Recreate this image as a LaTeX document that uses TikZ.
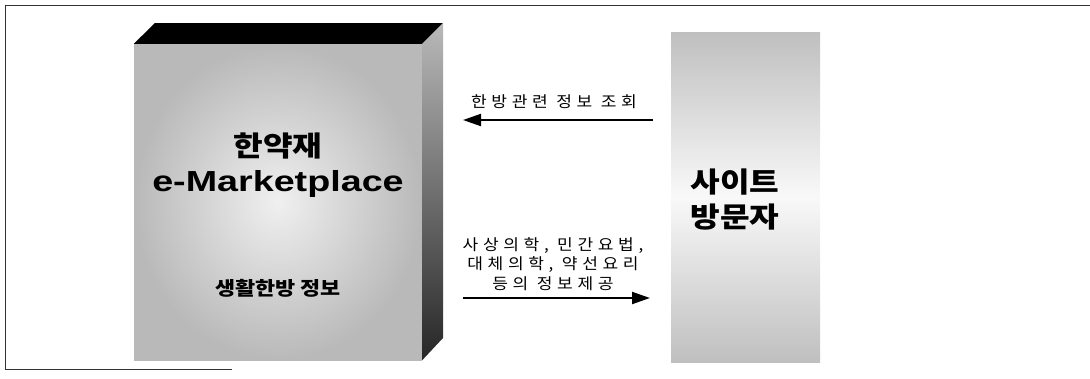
\documentclass[tikz,border=0pt]{standalone}
\usepackage{fontspec}
\usetikzlibrary{arrows.meta}
\newfontfamily\korfont[LetterSpace=30, FakeStretch=1.1]{Noto Sans CJK KR}
\newfontfamily\korbold[FakeStretch=1.15]{Noto Sans CJK KR}
\newfontfamily\latbold[FakeStretch=1.3]{Liberation Sans}
\tikzstyle{frame}=[draw=black!80, line width=0.8pt]
\tikzstyle{frontface}=[shade, inner color=gray!12, outer color=gray!55, minimum width=288pt, minimum height=316pt, inner sep=0pt]
\tikzstyle{sidebox}=[shade, top color=gray!50, bottom color=gray!50, middle color=gray!5, minimum width=149pt, minimum height=330pt, inner sep=0pt]
\tikzstyle{bigtext}=[font=\korbold\bfseries\fontsize{28}{35}\selectfont, align=center]
\tikzstyle{mkttext}=[font=\latbold\bfseries\fontsize{29}{34}\selectfont]
\tikzstyle{midtext}=[font=\korbold\bfseries\fontsize{19}{22}\selectfont]
\tikzstyle{smalltext}=[font=\korfont\fontsize{15.5}{19.5}\selectfont, align=center]
\tikzstyle{flow}=[line width=2pt, -{Triangle[length=18pt, width=12pt]}]

\begin{document}
\begin{tikzpicture}[x=1pt, y=-1pt]
		   \useasboundingbox (0,0) rectangle (1090,378);
		   \draw[frame] (1090,5) -- (5,5) -- (5,369) -- (232,369);
		   \begin{scope}
			   \node (market) at (278,202)[frontface] {};
			   \fill[black] (market.north west) -- (155,23) -- (443,23) -- (market.north east) -- cycle;
			   \shade[top color=gray!55, bottom color=black!85] (market.north east) -- (443,23) -- (443,338) -- (market.south east) -- cycle;
			   \node (herb) at (278,146)[bigtext] {한약재};
			   \node (emkt) at (278,184)[mkttext] {e-Marketplace};
			   \node (life) at (278,288)[midtext] {생활한방 정보};
			   \node (visitor) at (745.5,197)[sidebox] {};
			   \node (who) at (735,200)[bigtext] {사이트\\방문자};
		   \end{scope}
		   \begin{scope}
			   \coordinate (askfrom) at (653,120);
			   \coordinate (askto) at (463,120);
			   \coordinate (givefrom) at (463,298);
			   \coordinate (giveto) at (650,298);
			   \path [flow] (askfrom) edge (askto);
			   \path [flow] (givefrom) edge (giveto);
			   \node (asklabel) at (554,102)[smalltext] {한방관련 정보 조회};
			   \node (givelabel) at (553,264)[smalltext] {사상의학, 민간요법,\\대체의학, 약선요리\\등의 정보제공};
		   \end{scope}
	   \end{tikzpicture}
\end{document}
